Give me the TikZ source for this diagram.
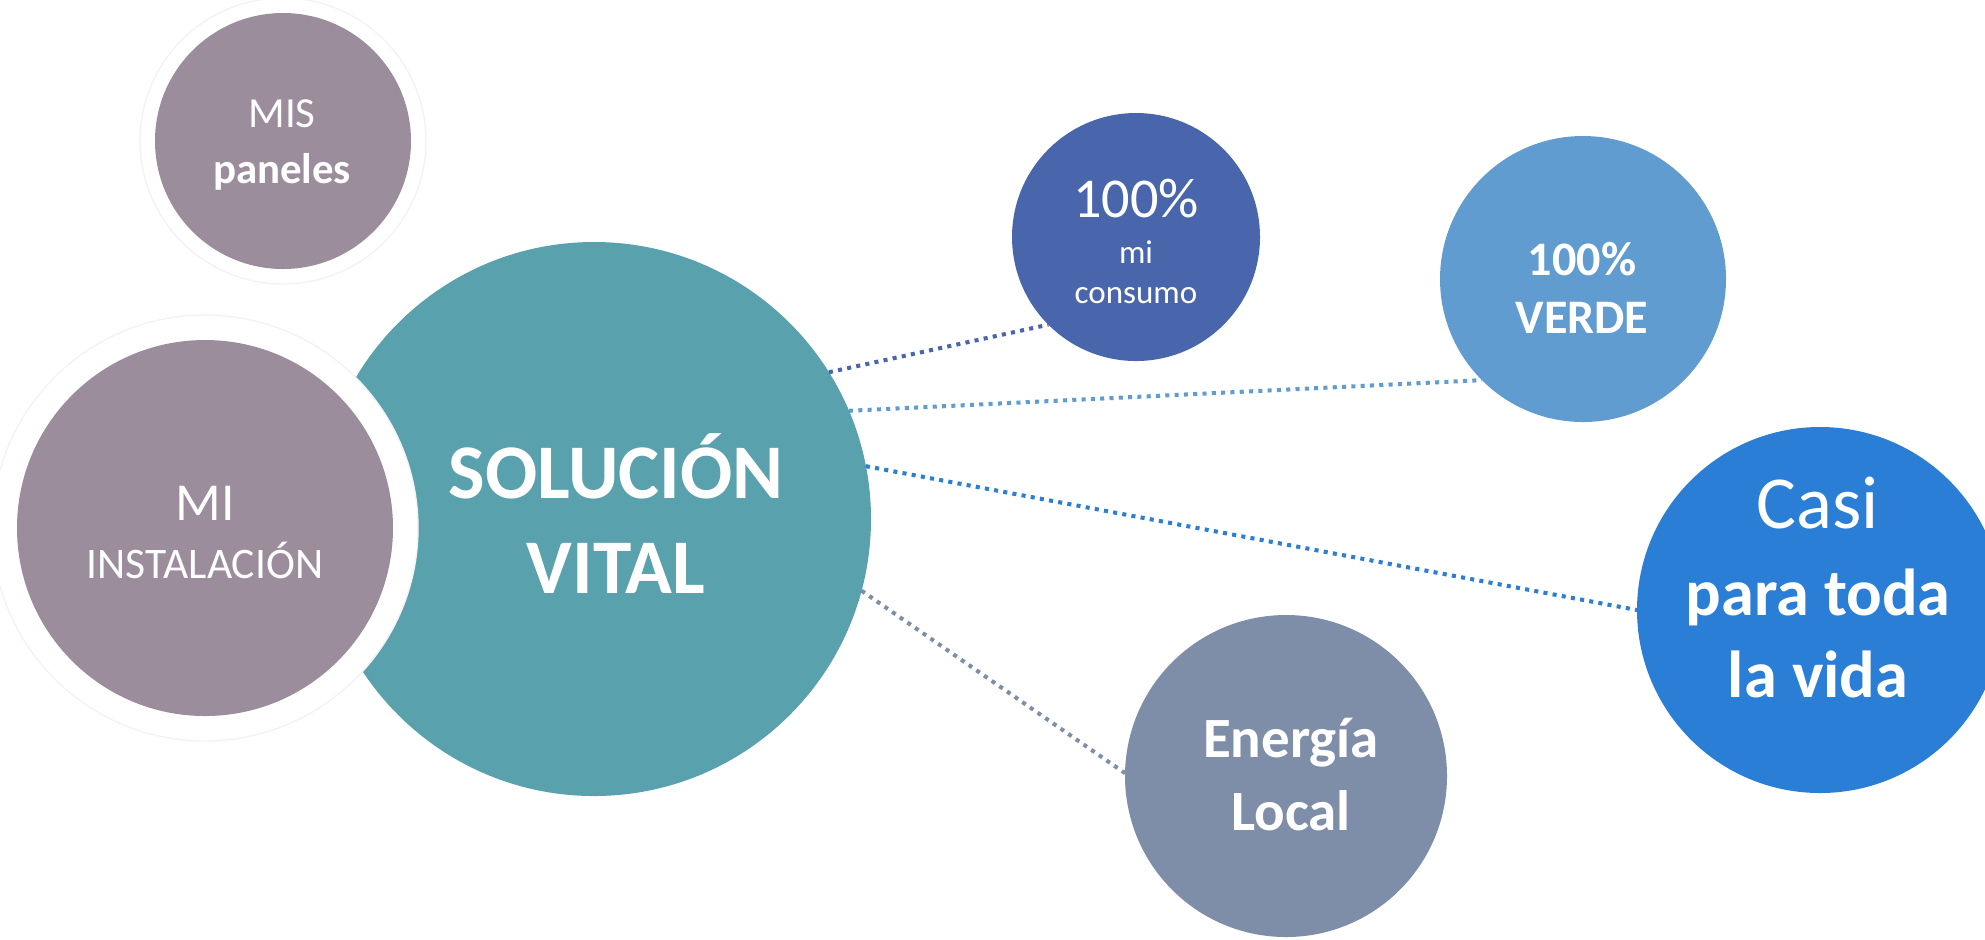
\documentclass[tikz,border=0pt]{standalone}
\usepackage{fontspec}
\setmainfont{Carlito}
\definecolor{cpurple}{HTML}{9C8D9D}
\definecolor{cteal}{HTML}{5AA1AE}
\definecolor{cnavy}{HTML}{4966AD}
\definecolor{clight}{HTML}{619CD0}
\definecolor{cblue}{HTML}{2A7ED5}
\definecolor{cslate}{HTML}{7F8EA8}
\definecolor{cring}{HTML}{F3F3F3}
\begin{document}
\begin{tikzpicture}[x=0.1mm,y=-0.1mm,
  bubble/.style={circle,draw=none,inner sep=0pt,outer sep=0pt},
  txt/.style={anchor=base,inner sep=0pt,text=white},
  link/.style={line width=1.15pt,dash pattern=on 1.15pt off 1.5pt}]
\useasboundingbox (0,0) rectangle (1985,939);
\fill[white] (0,0) rectangle (1985,939);
% central circle
\node[bubble,fill=cteal,minimum size=55.4mm] (sol) at (594,519) {};
% MI INSTALACION with white ring
\node[bubble,fill=white,draw=cring,line width=0.4pt,minimum size=42.6mm] (ring) at (205,528) {};
\node[bubble,fill=cpurple,minimum size=37.6mm] (inst) at (205,528) {};
% MIS paneles
\node[bubble,draw=cring,line width=0.4pt,minimum size=28.6mm] (ring2) at (283,141) {};
\node[bubble,fill=cpurple,minimum size=25.6mm] (pan) at (283,141) {};
% satellites
\node[bubble,fill=cnavy,minimum size=24.8mm] (cons) at (1136,237) {};
\node[bubble,fill=clight,minimum size=28.6mm] (verde) at (1583,279) {};
\node[bubble,fill=cblue,minimum size=36.6mm] (casi) at (1820,610) {};
\node[bubble,fill=cslate,minimum size=32.2mm] (ener) at (1286,776) {};
% connectors
\draw[link,draw=cnavy] (sol.32) -- (cons.225.6);
\draw[link,draw=clight] (sol.23.9) -- (verde.225.6);
\draw[link,draw=cblue] (sol.11.5) -- (casi.180);
\draw[link,draw=cslate] (sol.-15.3) -- (ener.179);
% texts
\node[txt,font=\fontsize{12.2pt}{14pt}\selectfont] (t1) at (282,127) {MIS};
\node[txt,font=\fontsize{12.2pt}{14pt}\selectfont\bfseries] (t2) at (282,183) {paneles};
\node[txt,font=\fontsize{15.2pt}{18pt}\selectfont] (t3) at (205,520) {MI};
\node[txt,font=\fontsize{12.4pt}{14pt}\selectfont] (t4) at (205,578) {INSTALACIÓN};
\node[txt,font=\fontsize{22pt}{26pt}\selectfont\bfseries] (t5) at (616,498) {SOLUCIÓN};
\node[txt,font=\fontsize{22pt}{26pt}\selectfont\bfseries] (t6) at (616,593) {VITAL};
\node[txt,font=\fontsize{16pt}{19pt}\selectfont] (t7) at (1136,217) {100\%};
\node[txt,font=\fontsize{9.4pt}{11pt}\selectfont] (t8) at (1136,263) {mi};
\node[txt,font=\fontsize{9.4pt}{11pt}\selectfont] (t9) at (1136,303) {consumo};
\node[txt,font=\fontsize{13.7pt}{16pt}\selectfont\bfseries] (t10) at (1582,275) {100\%};
\node[txt,font=\fontsize{13.7pt}{16pt}\selectfont\bfseries] (t11) at (1582,333) {VERDE};
\node[txt,font=\fontsize{21.3pt}{25pt}\selectfont] (t12) at (1818,528) {Casi};
\node[txt,font=\fontsize{18.9pt}{22pt}\selectfont\bfseries] (t13) at (1818,615) {para toda};
\node[txt,font=\fontsize{18.9pt}{22pt}\selectfont\bfseries] (t14) at (1818,697) {la vida};
\node[txt,font=\fontsize{16.2pt}{19pt}\selectfont\bfseries] (t15) at (1291,757) {Energía};
\node[txt,font=\fontsize{16.2pt}{19pt}\selectfont\bfseries] (t16) at (1291,830) {Local};
\end{tikzpicture}
\end{document}
